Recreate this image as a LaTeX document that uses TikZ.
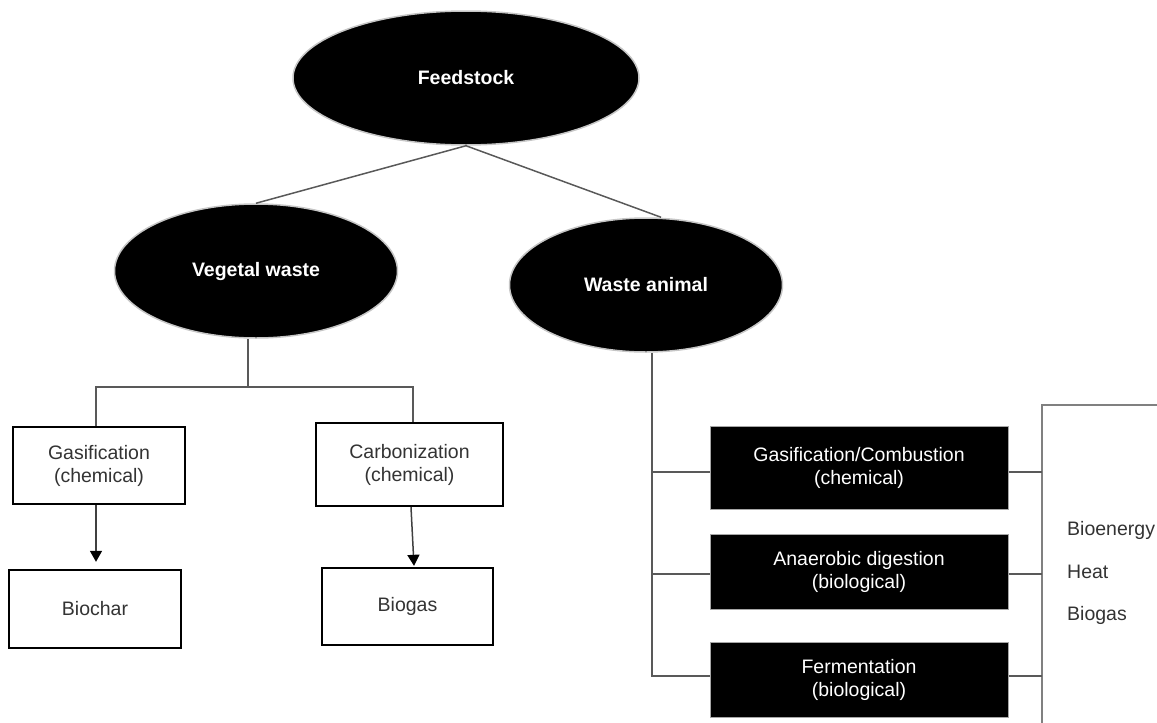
\documentclass[tikz,border=0pt]{standalone}
\usepackage{fontspec}
\setmainfont{Liberation Sans}
\usetikzlibrary{shapes.geometric,arrows.meta,calc}
\begin{document}
\begin{tikzpicture}[x=1pt,y=-1pt,
  font=\fontsize{19.5}{23}\selectfont,
  blob/.style={ellipse, fill=black, draw=gray!45, line width=1.5pt, inner sep=0pt,
    text=white, font=\fontsize{19.5}{23}\selectfont\bfseries},
  whitebox/.style={draw=black, line width=2.4pt, fill=white, inner sep=0pt,
    align=center, text=black!80},
  blackbox/.style={draw=gray!70, line width=1pt, fill=black, inner sep=0pt,
    align=center, text=white, minimum width=298pt},
  link/.style={draw=black!65, line width=1.5pt},
  arrowlink/.style={draw=black!75, line width=1.5pt,
    -{Triangle[width=12pt,length=11pt,fill=black,color=black]}},
  outtext/.style={anchor=base west, inner sep=0pt, text=black!80}
]
\useasboundingbox (0,0) rectangle (1157,723);

% feedstock categories
\node[blob, minimum width=346pt, minimum height=134pt] (feed) at (466,78) {Feedstock};
\node[blob, minimum width=283pt, minimum height=134pt] (veg) at (256,271) {Vegetal waste};
\node[blob, minimum width=273pt, minimum height=134pt] (anim) at (646,285) {Waste animal};

% vegetal waste processes and products
\node[whitebox, minimum width=172pt, minimum height=77pt] (gas) at (99,465.5) {Gasification\\(chemical)};
\node[whitebox, minimum width=172pt, minimum height=78pt] (bchar) at (95,609) {Biochar};
\node[whitebox, minimum width=187pt, minimum height=83pt] (carb) at (409.5,464.5) {Carbonization\\(chemical)};
\node[whitebox, minimum width=171pt, minimum height=77pt] (bgas) at (407.5,606.5) {Biogas};

% animal waste processes
\node[blackbox, minimum height=83pt] (gc) at (859,467.5) {Gasification/Combustion\\(chemical)};
\node[blackbox, minimum height=75pt] (ad) at (859,571.5) {Anaerobic digestion\\(biological)};
\node[blackbox, minimum height=75pt] (fer) at (859,679.5) {Fermentation\\(biological)};

% outputs
\node[outtext] (oe) at (1067,535.5) {Bioenergy};
\node[outtext] (oh) at (1067,578) {Heat};
\node[outtext] (og) at (1067,620.5) {Biogas};

% top-level links
\draw[link] (feed.south) -- (veg.north);
\draw[link] (feed.south) -- ($(anim.north)+(15,0)$);

% vegetal waste tree
\draw[link] ($(veg.south)+(-8,0)$) -- ++(0,48) coordinate (vj);
\draw[link] ($(gas.north)+(-3,0)$) |- (vj) -| ($(carb.north)+(3.5,0)$);
\draw[arrowlink] ($(gas.south)+(-3,0)$) -- ($(bchar.north)+(1,-7)$);
\draw[arrowlink] ($(carb.south)+(1.5,0)$) -- ($(bgas.north)+(6.5,-1)$);

% animal waste tree
\coordinate (at) at ($(anim.south)+(6,0)$);
\draw[link] (at) |- ($(fer.west)+(0,-3.5)$);
\draw[link] ($(gc.west)+(0,4.5)$) -- ($(at |- gc.west)+(0,4.5)$);
\draw[link] ($(ad.west)+(0,2.5)$) -- ($(at |- ad.west)+(0,2.5)$);

% bracket collecting the outputs
\coordinate (rt) at (1042,405);
\coordinate (rb) at (1042,723);
\coordinate (re) at (1157,405);
\draw[link, draw=black!50, line width=2pt] (re) -- (rt) -- (rb);
\draw[link] ($(gc.east)+(0,4.5)$) -- ($(rt |- gc.east)+(0,4.5)$);
\draw[link] ($(ad.east)+(0,2.5)$) -- ($(rt |- ad.east)+(0,2.5)$);
\draw[link] ($(fer.east)+(0,-3.5)$) -- ($(rt |- fer.east)+(0,-3.5)$);
\end{tikzpicture}
\end{document}
